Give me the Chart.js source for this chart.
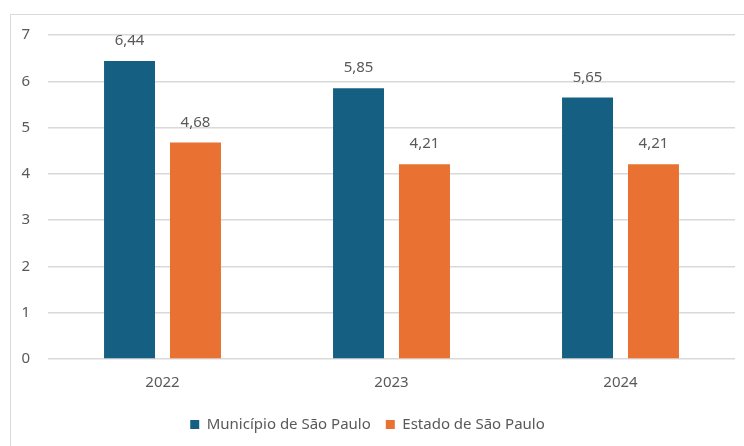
<!DOCTYPE html>
<html>
<head>
<meta charset="utf-8">
<script src="https://cdn.jsdelivr.net/npm/chart.js@4"></script>
<style>
html,body{margin:0;padding:0;background:#fff;width:744px;height:446px;overflow:hidden;}
#frame{position:absolute;left:10px;top:14px;width:760px;height:460px;border:1px solid #d9d9d9;box-sizing:border-box;}
#wrap{position:absolute;left:0;top:0;width:744px;height:446px;}
</style>
</head>
<body>
<div id="frame"></div>
<div id="wrap"><canvas id="chart" width="744" height="446"></canvas></div>
<script>
/* DATA */
const years=["2022","2023","2024"];
const municipio=[6.44,5.85,5.65];
const estado=[4.68,4.21,4.21];
const yTicks=[0,1,2,3,4,5,6,7];

const FONT="'Noto Sans', 'Open Sans', sans-serif";
const GRAY="#595959";

/* VALUE LABELS */
const valueLabels={
    id:"valueLabels",
    afterDatasetsDraw(chart){
        const ctx=chart.ctx;
        ctx.save();
        ctx.font="15px "+FONT;
        ctx.fillStyle=GRAY;
        ctx.textAlign="center";
        ctx.textBaseline="middle";
        chart.data.datasets.forEach((ds,i)=>{
            chart.getDatasetMeta(i).data.forEach((bar,j)=>{
                ctx.fillText(ds.data[j].toFixed(2).replace(".",","),bar.x,bar.y-20);
            });
        });
        ctx.restore();
    }
};

new Chart(document.getElementById("chart"),{
    type:"bar",
    data:{
        labels:years,
        datasets:[
            {label:"Município de São Paulo",data:municipio,backgroundColor:"#156082"},
            {label:"Estado de São Paulo",data:estado,backgroundColor:"#E97132"}
        ]
    },
    options:{
        responsive:false,
        animation:false,
        devicePixelRatio:1,
        categoryPercentage:0.576,
        barPercentage:0.773,
        layout:{padding:{top:35,right:9,left:0,bottom:4}},
        plugins:{
            legend:{
                position:"bottom",
                labels:{
                    font:{family:FONT,size:15},
                    color:GRAY,
                    boxWidth:9,
                    boxHeight:9,
                    padding:15
                }
            },
            tooltip:{enabled:false}
        },
        scales:{
            x:{
                grid:{display:false},
                border:{display:false},
                afterFit(scale){scale.height=43;},
                ticks:{font:{family:FONT,size:15},color:GRAY,padding:7}
            },
            y:{
                min:0,
                max:7,
                afterBuildTicks(scale){scale.ticks=yTicks.map(v=>({value:v}));},
                afterFit(scale){scale.width=48;},
                grid:{color:"#d9d9d9",lineWidth:1.5,drawTicks:false},
                border:{display:false},
                ticks:{font:{family:FONT,size:15},color:GRAY,padding:18}
            }
        }
    },
    plugins:[valueLabels]
});
</script>
</body>
</html>
